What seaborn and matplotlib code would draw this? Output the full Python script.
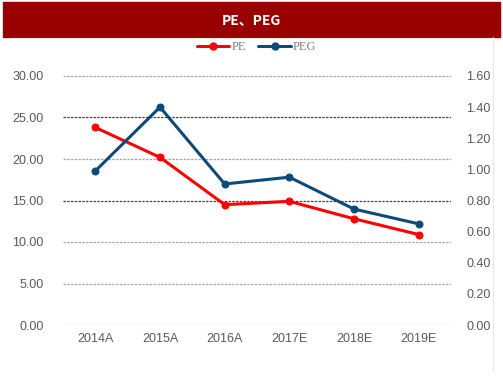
import pandas as pd
import numpy as np
import seaborn as sns
import matplotlib.pyplot as plt
from matplotlib.patches import Rectangle
from matplotlib.lines import Line2D

sns.set_style('white')
plt.rcParams['font.family'] = ['Liberation Sans', 'Noto Sans CJK SC', 'DejaVu Sans']

years = ['2014A', '2015A', '2016A', '2017E', '2018E', '2019E']
pe = [23.8, 20.2, 14.5, 14.9, 12.8, 10.9]
peg = [0.99, 1.40, 0.906, 0.95, 0.745, 0.65]
left_ticks = [0, 5, 10, 15, 20, 25, 30]
right_ticks = [0, 0.2, 0.4, 0.6, 0.8, 1.0, 1.2, 1.4, 1.6]

df = pd.DataFrame({'year': years, 'PE': pe, 'PEG': peg})

red = '#ff0000'
blue = '#0d4a7a'
grey = '#595959'

fig = plt.figure(figsize=(5.03, 3.78), dpi=100)
ax = fig.add_axes([63 / 503, 1 - 325 / 378, (451 - 63) / 503, (325 - 76) / 378])
ax2 = ax.twinx()

# title bar
fig.patches.append(Rectangle((3 / 503, 1 - 37 / 378), 497 / 503, 35 / 378,
                             transform=fig.transFigure, color='#990000', zorder=0))
fig.text(0.5, 1 - 20 / 378, 'PE、PEG', ha='center', va='center', color='white',
         fontsize=10, fontweight='bold', family=['Noto Sans CJK SC', 'DejaVu Sans'])
# frame
fig.add_artist(Line2D([493 / 503, 493 / 503], [0.02, 1 - 37 / 378], transform=fig.transFigure,
                      color='#e6e6e6', lw=0.8))
fig.add_artist(Line2D([10 / 503, 493 / 503], [1 - 38 / 378, 1 - 38 / 378], transform=fig.transFigure,
                      color='#e6e6e6', lw=0.8))

# grid
for t in left_ticks:
    if t == 0:
        ax.axhline(t, color='#d9d9d9', lw=1, zorder=1)
    elif t in (15, 25):
        ax.axhline(t, color='#404040', lw=0.9, ls=(0, (2, 1)), zorder=1)
    else:
        ax.axhline(t, color='#a6a6a6', lw=0.9, ls=(0, (2, 1)), zorder=1)

sns.lineplot(data=df, x='year', y='PE', ax=ax, color=red, marker='o', markersize=5,
             markeredgecolor=red, lw=2.2, sort=False, zorder=3)
sns.lineplot(data=df, x='year', y='PEG', ax=ax2, color=blue, marker='o', markersize=5,
             markeredgecolor=blue, lw=2.2, sort=False, zorder=3)

ax.set_xlim(-0.5, len(years) - 0.5)
ax.set_ylim(0, 30)
ax2.set_ylim(0, 1.6)
ax.set_yticks(left_ticks)
ax.set_yticklabels(['%.2f' % t for t in left_ticks])
ax2.set_yticks(right_ticks)
ax2.set_yticklabels(['%.2f' % t for t in right_ticks])
ax.set_xlabel('')
ax.set_ylabel('')
ax2.set_ylabel('')
for a in (ax, ax2):
    a.tick_params(length=0, labelsize=9, colors=grey)
    for s in a.spines.values():
        s.set_visible(False)
ax.tick_params(axis='y', pad=14)
ax.tick_params(axis='x', pad=6)
ax2.tick_params(axis='y', pad=11)

handles = [Line2D([], [], color=red, marker='o', lw=2.2, markersize=5),
           Line2D([], [], color=blue, marker='o', lw=2.2, markersize=5)]
leg = fig.legend(handles, ['PE', 'PEG'], loc='center', bbox_to_anchor=(0.51, 1 - 47 / 378),
                 ncol=2, frameon=False, handlelength=2.6, columnspacing=1.0,
                 handletextpad=0.15, prop={'family': 'Liberation Serif', 'size': 9})
for t in leg.get_texts():
    t.set_color('#7f7f7f')

fig.savefig('out.png', dpi=100)
